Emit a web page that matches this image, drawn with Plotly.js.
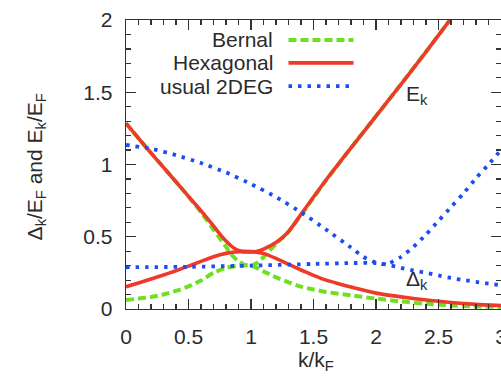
<!DOCTYPE html>
<html>
<head>
<meta charset="utf-8">
<script src="https://cdn.plot.ly/plotly-3.0.1.min.js"></script>
<style>html,body{margin:0;padding:0;background:#fff;}#chart{width:501px;height:378px;}</style>
</head>
<body>
<div id="chart"></div>
<script>
// ---- data ----
var seriesNames = ["Bernal", "Hexagonal", "usual 2DEG"];

// Bernal (green dashed)
var bernalEk_k = [0, 0.15, 0.3, 0.45, 0.6, 0.7, 0.75, 0.8, 0.85, 0.9, 0.95, 1.0, 1.05, 1.1, 1.15, 1.2, 1.3, 1.4, 1.5, 1.6, 1.8, 2.0, 2.2, 2.4, 2.6];
var bernalEk   = [1.285, 1.13, 0.98, 0.83, 0.67, 0.55, 0.49, 0.43, 0.37, 0.33, 0.305, 0.30, 0.32, 0.36, 0.405, 0.45, 0.535, 0.65, 0.77, 0.89, 1.115, 1.335, 1.555, 1.78, 2.01];
var bernalDk_k = [0, 0.1, 0.2, 0.3, 0.4, 0.5, 0.6, 0.7, 0.8, 0.9, 1.0, 1.1, 1.2, 1.3, 1.4, 1.5, 1.6, 1.8, 2.0, 2.2, 2.4, 2.6, 2.8, 3.0];
var bernalDk   = [0.062, 0.072, 0.083, 0.10, 0.125, 0.157, 0.197, 0.25, 0.285, 0.30, 0.302, 0.26, 0.22, 0.185, 0.155, 0.135, 0.118, 0.094, 0.072, 0.052, 0.036, 0.025, 0.018, 0.014];

// Hexagonal (red solid)
var hexEk_k = [0, 0.15, 0.3, 0.45, 0.6, 0.7, 0.75, 0.8, 0.85, 0.9, 0.95, 1.0, 1.05, 1.1, 1.2, 1.3, 1.4, 1.5, 1.6, 1.7, 1.8, 2.0, 2.2, 2.4, 2.6];
var hexEk   = [1.285, 1.13, 0.98, 0.83, 0.68, 0.575, 0.52, 0.47, 0.43, 0.405, 0.395, 0.395, 0.40, 0.415, 0.46, 0.535, 0.655, 0.775, 0.893, 1.005, 1.115, 1.335, 1.555, 1.78, 2.01];
var hexDk_k = [0, 0.1, 0.2, 0.3, 0.4, 0.5, 0.6, 0.7, 0.8, 0.9, 1.0, 1.1, 1.2, 1.3, 1.4, 1.5, 1.6, 1.7, 1.8, 2.0, 2.2, 2.4, 2.6, 2.8, 3.0];
var hexDk   = [0.154, 0.18, 0.207, 0.235, 0.265, 0.297, 0.33, 0.362, 0.385, 0.397, 0.397, 0.385, 0.35, 0.31, 0.27, 0.233, 0.20, 0.175, 0.152, 0.11, 0.084, 0.062, 0.045, 0.032, 0.024];

// usual 2DEG (blue dotted)
var twoDEk_k = [0, 0.2, 0.4, 0.6, 0.8, 1.0, 1.2, 1.4, 1.6, 1.8, 1.9, 2.0, 2.05, 2.1, 2.2, 2.3, 2.4, 2.5, 2.6, 2.7, 2.8, 2.9, 3.0];
var twoDEk   = [1.135, 1.11, 1.065, 1.01, 0.945, 0.865, 0.775, 0.67, 0.55, 0.425, 0.36, 0.32, 0.31, 0.315, 0.36, 0.43, 0.515, 0.61, 0.705, 0.80, 0.905, 1.0, 1.10];
var twoDDk_k = [0, 0.5, 1.0, 1.5, 1.8, 2.0, 2.1, 2.2, 2.3, 2.4, 2.5, 2.6, 2.7, 2.8, 2.9, 3.0];
var twoDDk   = [0.289, 0.292, 0.30, 0.312, 0.318, 0.318, 0.305, 0.285, 0.266, 0.25, 0.232, 0.215, 0.20, 0.188, 0.176, 0.165];

var xTickVals = [0, 0.5, 1, 1.5, 2, 2.5, 3];
var xTickText = ["0", "0.5", "1", "1.5", "2", "2.5", "3"];
var yTickVals = [0, 0.5, 1, 1.5, 2];
var yTickText = ["0", "0.5", "1", "1.5", "2"];

// ---- styles ----
var GREEN = "#6fe01f", RED = "#ee3a2a", BLUE = "#1b4df2";
var TXT = "#2b2b2b", AX = "#333333";
var FONT = "Liberation Sans, Arial, Helvetica, sans-serif";
var greenLine = {color: GREEN, width: 4, dash: "8px,4px"};
var redLine = {color: RED, width: 3.6};
var blueLine = {color: BLUE, width: 3.8, dash: "3.5px,6px"};

function tr(x, y, line) {
  return {x: x, y: y, type: "scatter", mode: "lines", line: Object.assign({shape: "spline", smoothing: 0.5}, line),
          hoverinfo: "skip", showlegend: false};
}

var data = [
  tr(bernalEk_k, bernalEk, greenLine),
  tr(bernalDk_k, bernalDk, greenLine),
  tr(hexEk_k, hexEk, redLine),
  tr(hexDk_k, hexDk, redLine),
  tr(twoDEk_k, twoDEk, blueLine),
  tr(twoDDk_k, twoDDk, blueLine)
];

var legY = [1.862, 1.703, 1.543];
var legLines = [greenLine, redLine, blueLine];
var shapes = [], annotations = [];
for (var i = 0; i < seriesNames.length; i++) {
  annotations.push({xref: "x", yref: "y", x: 1.195, y: legY[i], text: seriesNames[i], showarrow: false,
    xanchor: "right", yanchor: "middle", font: {family: FONT, size: 21, color: TXT}});
  shapes.push({type: "line", xref: "x", yref: "y", x0: 1.30, x1: 1.82, y0: legY[i], y1: legY[i],
    line: legLines[i]});
}
annotations.push({xref: "x", yref: "y", x: 2.22, y: 1.48, text: "E<sub>k</sub>", showarrow: false,
  xanchor: "left", yanchor: "middle", font: {family: FONT, size: 21, color: TXT}});
annotations.push({xref: "x", yref: "y", x: 2.22, y: 0.2, text: "\u0394<sub>k</sub>", showarrow: false,
  xanchor: "left", yanchor: "middle", font: {family: FONT, size: 21, color: TXT}});
annotations.push({xref: "paper", yref: "paper", x: 0.507, y: -0.18, text: "k/k<sub>F</sub>", showarrow: false,
  xanchor: "center", yanchor: "middle", font: {family: FONT, size: 21, color: TXT}});
annotations.push({xref: "paper", yref: "paper", x: -0.24, y: 0.49, text: "\u0394<sub>k</sub>/E<sub>F</sub> and E<sub>k</sub>/E<sub>F</sub>",
  showarrow: false, textangle: -90, xanchor: "center", yanchor: "middle", font: {family: FONT, size: 21, color: TXT}});

var axisCommon = {
  showline: true, linecolor: AX, linewidth: 1.3, mirror: "ticks",
  ticks: "inside", ticklen: 10, tickwidth: 1.3, tickcolor: AX,
  showgrid: false, zeroline: false, fixedrange: true,
  ticklabeloverflow: "allow",
  tickfont: {family: FONT, size: 21, color: TXT},
  minor: {ticks: "inside", dtick: 0.1, ticklen: 5, tickwidth: 1.2, tickcolor: AX, showgrid: false}
};

var layout = {
  width: 501, height: 378,
  margin: {l: 126, r: 0, t: 20, b: 69, pad: 0},
  paper_bgcolor: "#fff", plot_bgcolor: "#fff",
  showlegend: false,
  xaxis: Object.assign({}, axisCommon, {range: [0, 3], tickmode: "array", tickvals: xTickVals, ticktext: xTickText, ticklabelstandoff: 8}),
  yaxis: Object.assign({}, axisCommon, {range: [0, 2], tickmode: "array", tickvals: yTickVals, ticktext: yTickText, ticklabelstandoff: 8}),
  shapes: shapes,
  annotations: annotations
};

Plotly.newPlot("chart", data, layout, {displayModeBar: false, staticPlot: true});
</script>
</body>
</html>
